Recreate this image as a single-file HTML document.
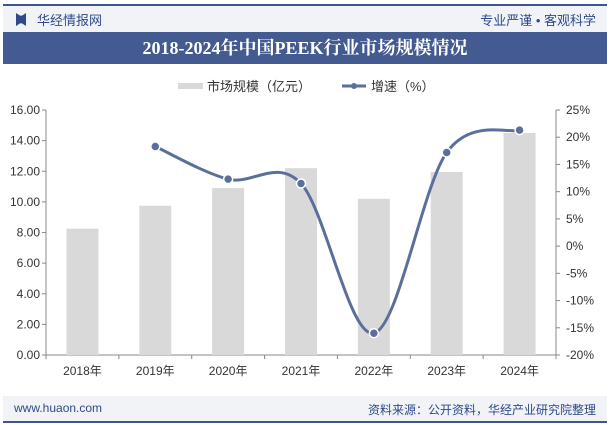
<!DOCTYPE html>
<html><head><meta charset="utf-8"><style>
body{margin:0;width:610px;height:425px;background:#fff;font-family:"Liberation Sans","Noto Sans CJK SC",sans-serif;overflow:hidden;position:relative}
.a{position:absolute}
</style></head><body>
<div class="a" style="left:3px;top:4px;width:604px;height:2px;background:#3d5590"></div>
<div class="a" style="left:3px;top:6px;width:604px;height:26px;background:#f1f3f7"></div>
<div class="a" style="left:16px;top:13px;width:10px;height:13px;background:#2e4a8a;clip-path:polygon(0 0,40% 20%,60% 20%,100% 0,100% 100%,60% 80%,40% 80%,0 100%)"></div>
<div class="a" style="left:37px;top:10px;font-size:13px;color:#2e4a8a">华经情报网</div>
<div class="a" style="right:14px;top:10px;font-size:13px;color:#2e4a8a">专业严谨 • 客观科学</div>
<div class="a" style="left:3px;top:32px;width:604px;height:32px;background:#445b91;color:#fff;font-family:'Liberation Serif','Noto Serif CJK SC',serif;font-weight:bold;font-size:18px;line-height:32px;text-align:center">2018-2024年中国PEEK行业市场规模情况</div>
<svg class="a" style="left:0;top:0" width="610" height="425" id="c">
<g font-size="13" fill="#333">
<rect x="178" y="83" width="25" height="6" fill="#d9d9d9"/>
<text x="207" y="91">市场规模（亿元）</text>
<line x1="342" y1="86" x2="366" y2="86" stroke="#5b6f9a" stroke-width="3"/>
<circle cx="354" cy="86" r="3" fill="#5b6f9a"/>
<text x="371" y="91">增速（%）</text>
</g>
</svg>
<div class="a" style="left:3px;top:396px;width:604px;height:25px;background:#f1f3f7"></div>
<div class="a" style="left:3px;top:421px;width:604px;height:2px;background:#3d5590"></div>
<div class="a" style="left:14px;top:401px;font-size:12px;color:#2e4a8a">www.huaon.com</div>
<div class="a" style="right:14px;top:401px;font-size:12px;color:#2e4a8a">资料来源：公开资料，华经产业研究院整理</div>
<script>
const categories=["2018年","2019年","2020年","2021年","2022年","2023年","2024年"];
const marketSize=[8.25,9.75,10.9,12.2,10.2,11.95,14.5];
const growth=[null,18.3,12.3,11.5,-16.0,17.2,21.3];
const leftTicks=[0,2,4,6,8,10,12,14,16];
const rightTicks=[-20,-15,-10,-5,0,5,10,15,20,25];
const NS="http://www.w3.org/2000/svg",svg=document.getElementById('c');
const L=46,R=556,T=110,B=355;
const yL=v=>B-(v-0)/(16-0)*(B-T);
const yR=v=>B-(v+20)/45*(B-T);
const step=(R-L)/categories.length;
const xC=i=>L+step*(i+0.5);
function mk(t,a,p){const e=document.createElementNS(NS,t);for(const k in a)e.setAttribute(k,a[k]);(p||svg).appendChild(e);return e;}
let ax=mk('line',{x1:L,y1:T,x2:L,y2:B,stroke:'#888'});


let ax2=mk('line',{x1:R,y1:T,x2:R,y2:B,stroke:'#888'});


let ax3=mk('line',{x1:L,y1:B,x2:R,y2:B,stroke:'#888'});


leftTicks.forEach(v=>{const y=yL(v);mk('line',{x1:L-4,y1:y,x2:L,y2:y,stroke:'#888'});
const t=mk('text',{x:L-6,y:y+4,'text-anchor':'end','font-size':12,fill:'#333'});t.textContent=v.toFixed(2);

});
rightTicks.forEach(v=>{const y=yR(v);mk('line',{x1:R,y1:y,x2:R+4,y2:y,stroke:'#888'});
const t=mk('text',{x:R+10,y:y+4,'font-size':12,fill:'#333'});t.textContent=v+'%';

});
for(let i=0;i<=categories.length;i++){const x=L+step*i;mk('line',{x1:x,y1:B,x2:x,y2:B+4,stroke:'#888'});}
categories.forEach((c,i)=>{const b=mk('rect',{x:xC(i)-16,y:yL(marketSize[i]),width:32,height:B-yL(marketSize[i]),fill:'#d9d9d9'});


const t=mk('text',{x:xC(i),y:B+20,'text-anchor':'middle','font-size':12,fill:'#333'});t.textContent=c;

});
const pts=[];growth.forEach((g,i)=>{if(g!==null)pts.push([xC(i),yR(g)]);});
let d='M'+pts[0][0]+','+pts[0][1];
for(let i=0;i<pts.length-1;i++){const p0=pts[i-1]||pts[i],p1=pts[i],p2=pts[i+1],p3=pts[i+2]||p2;const k=6;
d+=` C${p1[0]+(p2[0]-p0[0])/k},${p1[1]+(p2[1]-p0[1])/k} ${p2[0]-(p3[0]-p1[0])/k},${p2[1]-(p3[1]-p1[1])/k} ${p2[0]},${p2[1]}`;}
const ln=mk('path',{d:d,fill:'none',stroke:'#5b6f9a','stroke-width':3});


pts.forEach(p=>{const c=mk('circle',{cx:p[0],cy:p[1],r:4.5,fill:'#5b6f9a',stroke:'#fff','stroke-width':1.5});

});
</script>
</body></html>
